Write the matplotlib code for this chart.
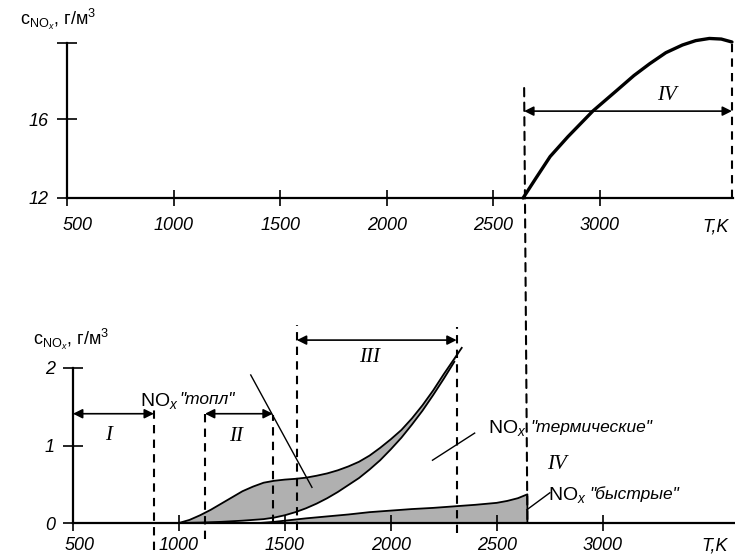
import numpy as np
import matplotlib
matplotlib.use("Agg")
import matplotlib.pyplot as plt
from matplotlib.patches import ConnectionPatch
from matplotlib.transforms import ScaledTranslation

plt.rcParams['font.family'] = ['Liberation Sans', 'DejaVu Sans']
plt.rcParams['mathtext.fontset'] = 'custom'
plt.rcParams['mathtext.rm'] = 'Liberation Sans'
plt.rcParams['mathtext.it'] = 'Liberation Sans:italic'

# ---------------- data ----------------
# upper panel: NOx concentration, region IV
top_T = [2640, 2700, 2767, 2850, 2967, 3080, 3160, 3234, 3310, 3388, 3450, 3514, 3570, 3620]
top_c = [12.0, 13.0, 14.1, 15.1, 16.4, 17.45, 18.2, 18.8, 19.36, 19.75, 19.97, 20.08, 20.05, 19.9]

# lower panel: thermal NOx band (upper and lower boundary)
therm_up_T = [1000, 1050, 1100, 1150, 1200, 1250, 1300, 1350, 1400, 1450, 1500, 1550, 1600, 1650,
              1700, 1750, 1800, 1850, 1900, 1950, 2000, 2050, 2100, 2150, 2200, 2250, 2300, 2335]
therm_up_c = [0.0, 0.04, 0.10, 0.17, 0.25, 0.33, 0.41, 0.47, 0.52, 0.545, 0.56, 0.57, 0.585, 0.61,
              0.64, 0.68, 0.73, 0.79, 0.87, 0.97, 1.08, 1.20, 1.35, 1.52, 1.71, 1.92, 2.12, 2.26]
therm_lo_T = [1000, 1100, 1200, 1300, 1400, 1450, 1500, 1550, 1600, 1650, 1700, 1750, 1800, 1850,
              1900, 1950, 2000, 2050, 2100, 2150, 2200, 2250, 2300]
therm_lo_c = [0.0, 0.005, 0.015, 0.03, 0.05, 0.07, 0.10, 0.14, 0.19, 0.25, 0.32, 0.40, 0.49, 0.58,
              0.69, 0.81, 0.95, 1.10, 1.27, 1.45, 1.65, 1.86, 2.08]

# prompt NOx
prompt_T = [1380, 1450, 1500, 1600, 1700, 1800, 1900, 2000, 2100, 2200, 2300, 2400, 2500, 2550, 2600, 2645]
prompt_c = [0.0, 0.015, 0.03, 0.06, 0.085, 0.11, 0.14, 0.16, 0.18, 0.195, 0.215, 0.235, 0.26, 0.285, 0.32, 0.37]

# region boundaries (K)
bound_I = [500, 882]
bound_II = [1123, 1443]
bound_III = [1557, 2311]
bound_IV = [2645, 3620]

x_ticks = [500, 1000, 1500, 2000, 2500, 3000]
x_ticklabels = ['500', '1000', '1500', '2000', '2500', '3000']
top_yticks = [12, 16]
low_yticks = [0, 1, 2]

# ---------------- figure ----------------
W, H = 735, 557
fig = plt.figure(figsize=(W / 100, H / 100), dpi=100)
fig.patch.set_facecolor('white')

ax1 = fig.add_axes([67 / W, (H - 198) / H, 666 / W, 155 / H])
ax2 = fig.add_axes([73 / W, (H - 523) / H, 662 / W, 155 / H])

XMAX = 3625
dash = (0, (4, 3))
tickfont = dict(family='Liberation Sans', style='italic', size=13)
romfont = dict(family='Liberation Serif', style='italic', size=15)

for ax, xpad in ((ax1, 8), (ax2, 4)):
    ax.set_facecolor('none')
    for s in ('top', 'right'):
        ax.spines[s].set_visible(False)
    for s in ('left', 'bottom'):
        ax.spines[s].set_linewidth(1.6)
    ax.set_xlim(500, XMAX)
    ax.set_xticks(x_ticks)
    ax.set_xticklabels(x_ticklabels, **tickfont)
    ax.tick_params(axis='x', direction='inout', length=12, width=1.2, pad=xpad)
    ax.tick_params(axis='y', direction='inout', length=14, width=1.2, pad=6)

# shift first x label ("500") slightly right as in reference
for ax, dx in ((ax1, 11), (ax2, 7)):
    lab = ax.get_xticklabels()[0]
    lab.set_transform(lab.get_transform() + ScaledTranslation(dx / 100, 0, fig.dpi_scale_trans))

# ---- top panel ----
ax1.set_ylim(12, 19.85)
ax1.set_yticks(top_yticks + [19.85])
ax1.set_yticklabels(['12', '16', ''], **tickfont)
ax1.plot(top_T, top_c, color='black', lw=2.4, clip_on=False, solid_capstyle='round')
ax1.plot([3620, 3620], [12, 19.9], color='black', lw=1.5, ls=dash, clip_on=False)
ax1.annotate('', xy=(bound_IV[0], 16.4), xytext=(bound_IV[1], 16.4),
             arrowprops=dict(arrowstyle='<|-|>', color='black', lw=1.2,
                             mutation_scale=14, shrinkA=0, shrinkB=0))
ax1.text(3313, 17.2, 'IV', ha='center', va='center', **romfont)
ax1.text(3545, -0.19, 'T,K', transform=ax1.get_xaxis_transform(), ha='center', va='center',
         **tickfont)
fig.text(20 / W, 1 - 19 / H, r'$\mathrm{c}_{\mathrm{NO}_x}$, г/м$^3$', fontsize=13,
         ha='left', va='center')

# ---- lower panel ----
ax2.set_ylim(0, 2)
ax2.set_yticks(low_yticks)
ax2.set_yticklabels(['0', '1', '2'], **tickfont)
ax2.text(3530, -0.15, 'T,K', transform=ax2.get_xaxis_transform(), ha='center', va='center',
         **tickfont)
fig.text(33 / W, 1 - 339 / H, r'$\mathrm{c}_{\mathrm{NO}_x}$, г/м$^3$', fontsize=13,
         ha='left', va='center')

gray = '#b0b0b0'
# thermal band
ax2.fill(list(therm_up_T) + list(therm_lo_T[::-1]), list(therm_up_c) + list(therm_lo_c[::-1]),
         color=gray, lw=0, clip_on=False)
ax2.plot(therm_up_T, therm_up_c, color='black', lw=1.3, clip_on=False)
ax2.plot(therm_lo_T, therm_lo_c, color='black', lw=1.3, clip_on=False)
# prompt
ax2.fill(list(prompt_T) + [prompt_T[-1], prompt_T[0]], list(prompt_c) + [0, 0], color=gray, lw=0)
ax2.plot(prompt_T + [prompt_T[-1]], prompt_c + [0], color='black', lw=1.3)

# dashed boundaries in lower panel
vlines = [(bound_I[1], -0.35, 1.48), (bound_II[0], -0.2, 1.48), (bound_II[1], 0, 1.4),
          (bound_III[0], -0.09, 2.55), (bound_III[1], -0.13, 2.53)]
for x, y0, y1 in vlines:
    ax2.plot([x, x], [y0, y1], color='black', lw=1.5, ls=dash, clip_on=False)

# connecting dashed line between panels
con = ConnectionPatch(xyA=(bound_IV[0], 17.57), coordsA=ax1.transData,
                      xyB=(bound_IV[0], 0), coordsB=ax2.transData,
                      color='black', lw=1.5, ls=dash)
fig.add_artist(con)

# arrows
arrow_kw = dict(arrowstyle='<|-|>', color='black', lw=1.2, mutation_scale=14, shrinkA=0, shrinkB=0)
ax2.annotate('', xy=(bound_I[0], 1.41), xytext=(bound_I[1], 1.41), arrowprops=arrow_kw,
             annotation_clip=False)
ax2.annotate('', xy=(bound_II[0], 1.41), xytext=(bound_II[1], 1.41), arrowprops=arrow_kw,
             annotation_clip=False)
ax2.annotate('', xy=(bound_III[0], 2.36), xytext=(bound_III[1], 2.36), arrowprops=arrow_kw,
             annotation_clip=False)
ax2.text(666, 1.13, 'I', ha='center', va='center', clip_on=False, **romfont)
ax2.text(1272, 1.11, 'II', ha='center', va='center', clip_on=False, **romfont)
ax2.text(1898, 2.13, 'III', ha='center', va='center', clip_on=False, **romfont)
ax2.text(2784, 0.75, 'IV', ha='center', va='center', clip_on=False, **romfont)

# leader lines
ax2.plot([1339, 1628], [1.91, 0.46], color='black', lw=1.0, clip_on=False)
ax2.plot([2197, 2396], [0.81, 1.16], color='black', lw=1.0, clip_on=False)
ax2.plot([2642, 2751], [0.17, 0.39], color='black', lw=1.0, clip_on=False)

# NOx labels
def nox_label(x, y, word, gap):
    t = ax2.text(x, y, r'NO$_x$', fontsize=14, ha='left', va='center', clip_on=False)
    ax2.annotate(word, xy=(1, 1), xycoords=t, xytext=(gap, -1), textcoords='offset points',
                 ha='left', va='top', fontsize=12.5, fontstyle='italic')

nox_label(818, 1.58, '"топл"', 0)
nox_label(2457, 1.22, '"термические"', 3)
nox_label(2742, 0.36, '"быстрые"', 2)

fig.savefig('out.png', dpi=100, facecolor='white')
